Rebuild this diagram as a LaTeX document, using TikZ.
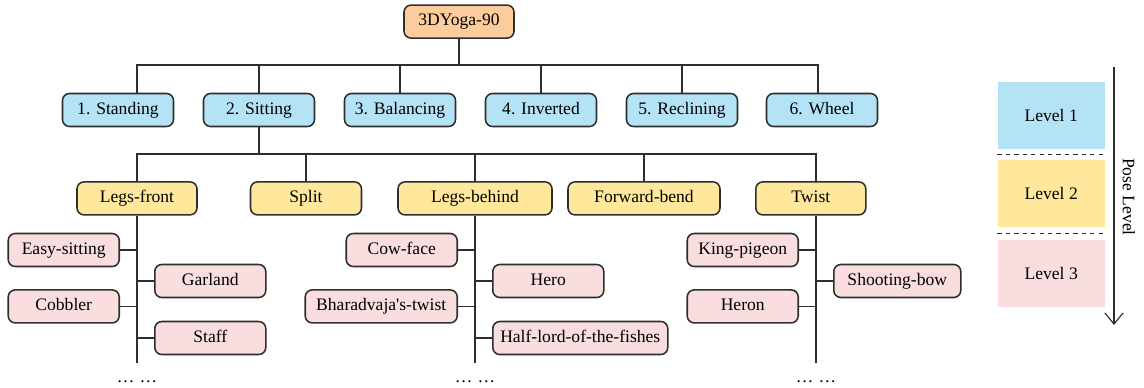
\documentclass[tikz,border=0pt]{standalone}
\usepackage{fontspec}
\setmainfont{Liberation Serif}
\newfontfamily\treefont{Liberation Serif}
\usetikzlibrary{arrows.meta, positioning, calc}

\definecolor{rootfill}{HTML}{FCCC9C}
\definecolor{lvlonefill}{HTML}{B5E3F6}
\definecolor{lvltwofill}{HTML}{FFE79B}
\definecolor{lvlthreefill}{HTML}{F9DDDF}
\definecolor{edgecol}{HTML}{2E2E2E}

\begin{document}
\begin{tikzpicture}[
    font=\treefont\fontsize{12.5}{14}\selectfont,
    node distance=0.425cm,
    box/.style={draw=edgecol, line width=1.1pt, rounded corners=5pt, minimum width=2.775cm, minimum height=0.825cm, inner sep=0pt, text height=1.6ex, text depth=0.35ex},
    rootbox/.style={box, fill=rootfill, minimum width=2.75cm},
    cat/.style={box, fill=lvlonefill},
    sub/.style={box, fill=lvltwofill},
    pose/.style={box, fill=lvlthreefill},
    link/.style={draw=edgecol, line width=1pt},
    legendbox/.style={fill=#1, minimum width=2.675cm, minimum height=1.675cm, inner sep=0pt},
    sep line/.style={draw=edgecol, dashed, line width=0.6pt}
]
\useasboundingbox (0,0) rectangle (28.6,-9.7);

% Nodes
\node[rootbox] (root) at (11.475, -0.54) {3DYoga-90};

\node[cat] (C1) at (2.95, -2.75) {1. Standing};
\node[cat] (C2) at (6.475, -2.75) {2. Sitting};
\node[cat] (C3) at (10, -2.75) {3. Balancing};
\node[cat] (C4) at (13.525, -2.75) {4. Inverted};
\node[cat] (C5) at (17.05, -2.75) {5. Reclining};
\node[cat] (C6) at (20.55, -2.75) {6. Wheel};

\node[sub, minimum width=3cm] (legsfront) at (3.425, -4.96) {Legs-front};
\node[sub] (split) at (7.65, -4.96) {Split};
\node[sub, minimum width=3.85cm] (legsbehind) at (11.875, -4.96) {Legs-behind};
\node[sub, minimum width=3.8cm] (fwdbend) at (16.1, -4.96) {Forward-bend};
\node[sub, minimum width=2.75cm] (twist) at (20.27, -4.96) {Twist};

% Buses
\coordinate (b1L) at (3.425, -1.625);
\coordinate (b1R) at (20.45, -1.625);
\coordinate (b2L) at (3.425, -3.85);
\coordinate (b2R) at (20.4, -3.85);

% Trunks and rows
\foreach \t/\x in {lf/3.425, lb/11.875, tw/20.4} {
  \foreach \r/\y in {1/-6.25, 2/-7.025, 3/-7.66, 4/-8.45}
    \coordinate (\t\r) at (\x, \y);
  \coordinate (\t end) at (\x, -9.075);
  \node (\t dots) at (\x, -9.55) {…\kern0.3em…};
}

% Legs-front
\node[pose, left=of lf1] (easy) {Easy-sitting};
\node[pose, right=of lf2] (garland) {Garland};
\node[pose, left=of lf3] (cobbler) {Cobbler};
\node[pose, right=of lf4] (staff) {Staff};

% Legs-behind
\node[pose, left=of lb1] (cowface) {Cow-face};
\node[pose, right=of lb2] (hero) {Hero};
\node[pose, left=of lb3, minimum width=3.8cm] (bharad) {Bharadvaja\textquotesingle s-twist};
\node[pose, right=of lb4, minimum width=4.375cm] (halflord) {Half-lord-of-the-fishes};

% Twist
\node[pose, left=of tw1] (kingpigeon) {King-pigeon};
\node[pose, right=of tw2, minimum width=3.175cm] (shootbow) {Shooting-bow};
\node[pose, left=of tw3] (heron) {Heron};

% Collegamenti
\draw[link] (root.south) -- (root.south |- b1L);
\draw[link] (C1.north -| b1L) -- (b1L) -- (b1R) -- (C6.north -| b1R);
\foreach \n in {C2, C3, C4, C5}
  \draw[link] (\n.north) -- (\n.north |- b1L);

\draw[link] (C2.south) -- (C2.south |- b2L);
\draw[link] (legsfront.north) -- (b2L) -- (b2R) -- (twist.north -| b2R);
\foreach \n in {split, legsbehind, fwdbend}
  \draw[link] (\n.north) -- (\n.north |- b2L);

\draw[link] (legsfront.south) -- (lfend);
\draw[link] (legsbehind.south) -- (lbend);
\draw[link] (twist.south -| twend) -- (twend);

\draw[link] (lf1) -- (easy); \draw[link] (lf2) -- (garland);
\draw[link] (lf3) -- (cobbler); \draw[link] (lf4) -- (staff);
\draw[link] (lb1) -- (cowface); \draw[link] (lb2) -- (hero);
\draw[link] (lb3) -- (bharad); \draw[link] (lb4) -- (halflord);
\draw[link] (tw1) -- (kingpigeon); \draw[link] (tw2) -- (shootbow);
\draw[link] (tw3) -- (heron);

% Legend
\node[legendbox=lvlonefill] (L1) at (26.28, -2.875) {Level 1};
\node[legendbox=lvltwofill] (L2) at (26.28, -4.84) {Level 2};
\node[legendbox=lvlthreefill] (L3) at (26.28, -6.84) {Level 3};
\draw[sep line] ($(L1.south west)!0.5!(L2.north west)$) -- ($(L1.south east)!0.5!(L2.north east)$);
\draw[sep line] ($(L2.south west)!0.5!(L3.north west)$) -- ($(L2.south east)!0.5!(L3.north east)$);

\coordinate (axtop) at (27.85, -1.675);
\coordinate (axbot) at (27.85, -8.125);
\draw[draw=edgecol, line width=0.8pt, -{Straight Barb[length=8pt, width=13pt]}] (axtop) -- (axbot);
\node[rotate=-90] (poselbl) at (28.22, -4.925) {Pose Level};

\end{tikzpicture}
\end{document}
